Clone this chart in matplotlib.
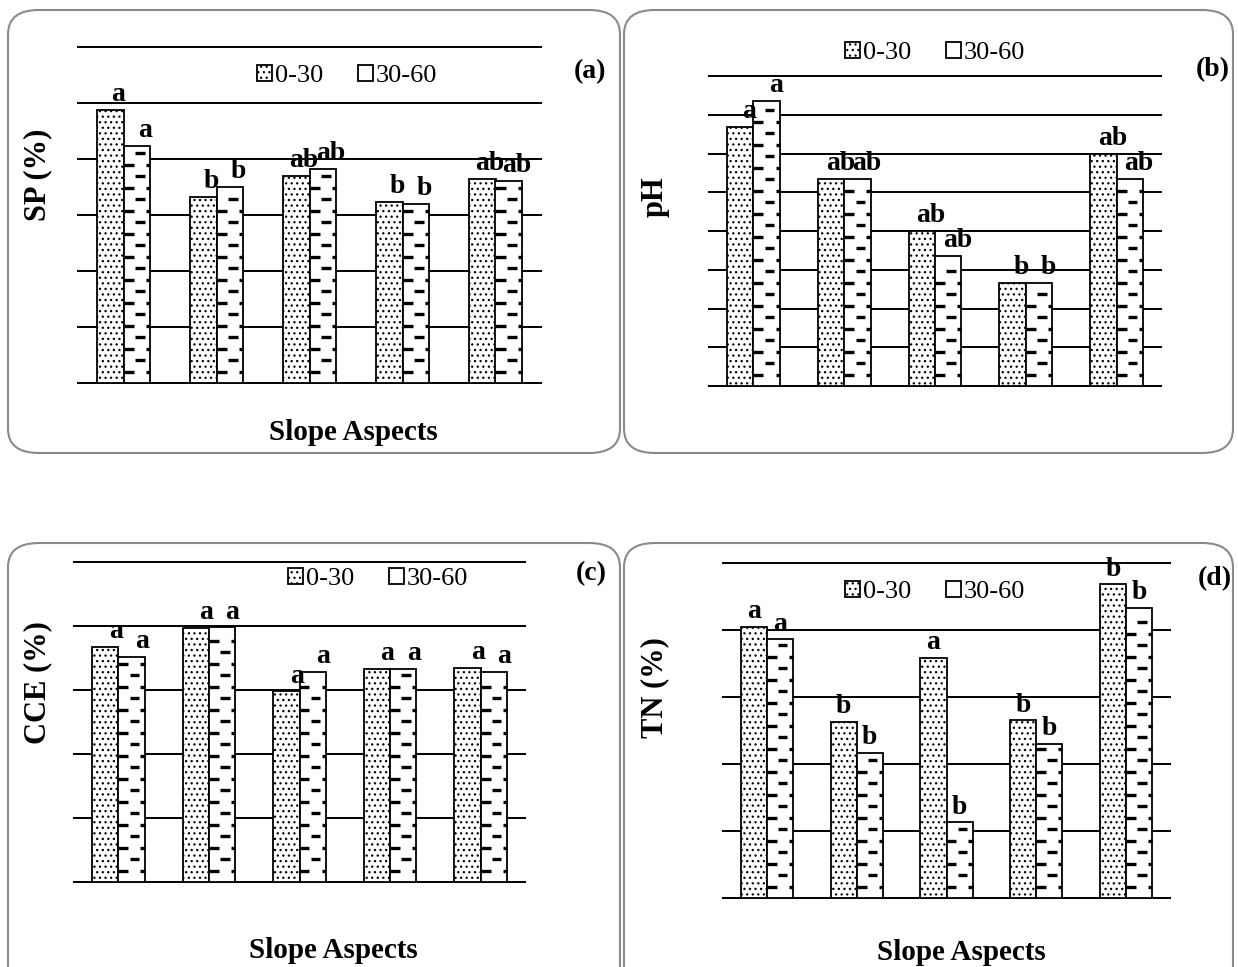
import numpy as np
import matplotlib.pyplot as plt
from matplotlib.patches import FancyBboxPatch
from matplotlib.collections import LineCollection

plt.rcParams.update({
    "font.family": ["Liberation Serif", "DejaVu Serif"],
    "hatch.linewidth": 0.9,
    "hatch.color": "black",
})

# data (relative units = gridline steps)
sp_0_30 = [4.88, 3.33, 3.70, 3.24, 3.64]
sp_30_60 = [4.23, 3.50, 3.83, 3.20, 3.61]
ph_0_30 = [6.68, 5.35, 4.00, 2.67, 6.00]
ph_30_60 = [7.35, 5.35, 3.35, 2.67, 5.35]
cce_0_30 = [3.67, 3.97, 2.98, 3.33, 3.34]
cce_30_60 = [3.52, 3.98, 3.28, 3.33, 3.28]
tn_0_30 = [4.05, 2.63, 3.58, 2.65, 4.68]
tn_30_60 = [3.86, 2.17, 1.13, 2.30, 4.33]

sp_let = (['a', 'b', 'ab', 'b', 'ab'], ['a', 'b', 'ab', 'b', 'ab'])
ph_let = (['a', 'ab', 'ab', 'b', 'ab'], ['a', 'ab', 'ab', 'b', 'ab'])
cce_let = (['a'] * 5, ['a'] * 5)
tn_let = (['a', 'b', 'a', 'b', 'b'], ['a', 'b', 'b', 'b', 'b'])

depths = ['0-30', '30-60']

W, H = 1238, 967
fig = plt.figure(figsize=(W / 100, H / 100), dpi=100)


def px_axes(x0, x1, y0, y1):
    return fig.add_axes([x0 / W, 1 - y1 / H, (x1 - x0) / W, (y1 - y0) / H])


# rounded frames
for (bx, by, bw, bh) in [(8, 10, 612, 443), (624, 10, 609, 443),
                         (8, 543, 612, 450), (624, 543, 609, 450)]:
    fig.patches.append(FancyBboxPatch((bx / W, 1 - (by + bh) / H), bw / W, bh / H,
                                      boxstyle="round,pad=0,rounding_size=0.025",
                                      transform=fig.transFigure, fc='none',
                                      ec='#8a8a8a', lw=1.5))

panels = [
    dict(ax=(77, 542, 47, 383), top=6, v0=sp_0_30, v1=sp_30_60, let=sp_let, dx=0.3,
         ylabel='SP (%)', ylab=(38, 175), xlab=(353, 433), tag='(a)', tagpos=(590, 72),
         leg=(347, 76)),
    dict(ax=(708, 1162, 76, 386), top=8, v0=ph_0_30, v1=ph_30_60, let=ph_let, dx=0.35,
         ylabel='pH', ylab=(655, 197), xlab=None, tag='(b)', tagpos=(1213, 70),
         leg=(935, 53)),
    dict(ax=(73, 526, 562, 882), top=5, v0=cce_0_30, v1=cce_30_60, let=cce_let, dx=0.4,
         ylabel='CCE (%)', ylab=(38, 683), xlab=(333, 950), tag='(c)', tagpos=(591, 574),
         leg=(378, 579)),
    dict(ax=(722, 1171, 563, 898), top=5, v0=tn_0_30, v1=tn_30_60, let=tn_let, dx=0.0,
         ylabel='TN (%)', ylab=(655, 688), xlab=(961, 953), tag='(d)', tagpos=(1215, 579),
         leg=(935, 592)),
]

x = np.arange(5)
w = 0.29

for p in panels:
    x0p, x1p, y0p, y1p = p['ax']
    ax = px_axes(x0p, x1p, y0p, y1p)
    ax.set_xlim(-0.5, 4.5)
    ax.set_ylim(0, p['top'])
    ax.tick_params(left=False, bottom=False, labelleft=False, labelbottom=False)
    for s in ax.spines.values():
        s.set_visible(False)
    ax.hlines(np.arange(p['top'] + 1), -0.5, 4.5, color='black', lw=1.4,
              zorder=1, clip_on=False)

    b0 = ax.bar(x - w / 2, p['v0'], w, color='white', edgecolor='black', lw=1.3,
                hatch='...', label=depths[0], zorder=2)
    b1 = ax.bar(x + w / 2, p['v1'], w, color='white', edgecolor='black', lw=1.3,
                label=depths[1], zorder=2)

    # dashed horizontal fill pattern for 30-60 bars
    step = 23 * p['top'] / (y1p - y0p)
    segs = []
    for r in b1:
        bx0, bw_, bh_ = r.get_x(), r.get_width(), r.get_height()
        k = 1
        while True:
            yy = k * step / 2
            if yy > bh_ - step * 0.15:
                break
            if k % 2 == 0:
                segs.append([(bx0 + 0.43 * bw_, yy), (bx0 + 0.79 * bw_, yy)])
            else:
                segs.append([(bx0, yy), (bx0 + 0.38 * bw_, yy)])
                segs.append([(bx0 + 0.84 * bw_, yy), (bx0 + bw_, yy)])
            k += 1
    ax.add_collection(LineCollection(segs, colors='black', lw=2.4, zorder=3,
                                     capstyle='butt'))

    for bars, lets in zip((b0, b1), p['let']):
        for r, t in zip(bars, lets):
            ax.annotate(t, (r.get_x() + r.get_width() * (0.5 + p['dx']), r.get_height()),
                        xytext=(0, 2), textcoords='offset points', ha='center',
                        va='bottom', fontsize=20, fontweight='bold', zorder=4)

    lx, ly = p['leg']
    ax.legend(handles=[b0, b1], loc='center', bbox_to_anchor=(lx / W, 1 - ly / H),
              bbox_transform=fig.transFigure, ncol=2, frameon=False, fontsize=19,
              handlelength=0.6, handleheight=0.6, handletextpad=0.1,
              columnspacing=1.3, borderpad=0)

    fig.text(p['ylab'][0] / W, 1 - p['ylab'][1] / H, p['ylabel'], rotation=90,
             ha='center', va='center', fontsize=22, fontweight='bold')
    if p['xlab']:
        fig.text(p['xlab'][0] / W, 1 - p['xlab'][1] / H, 'Slope Aspects',
                 ha='center', va='center', fontsize=21, fontweight='bold')
    fig.text(p['tagpos'][0] / W, 1 - p['tagpos'][1] / H, p['tag'],
             ha='center', va='center', fontsize=20, fontweight='bold')

plt.savefig('out.png', dpi=100)
